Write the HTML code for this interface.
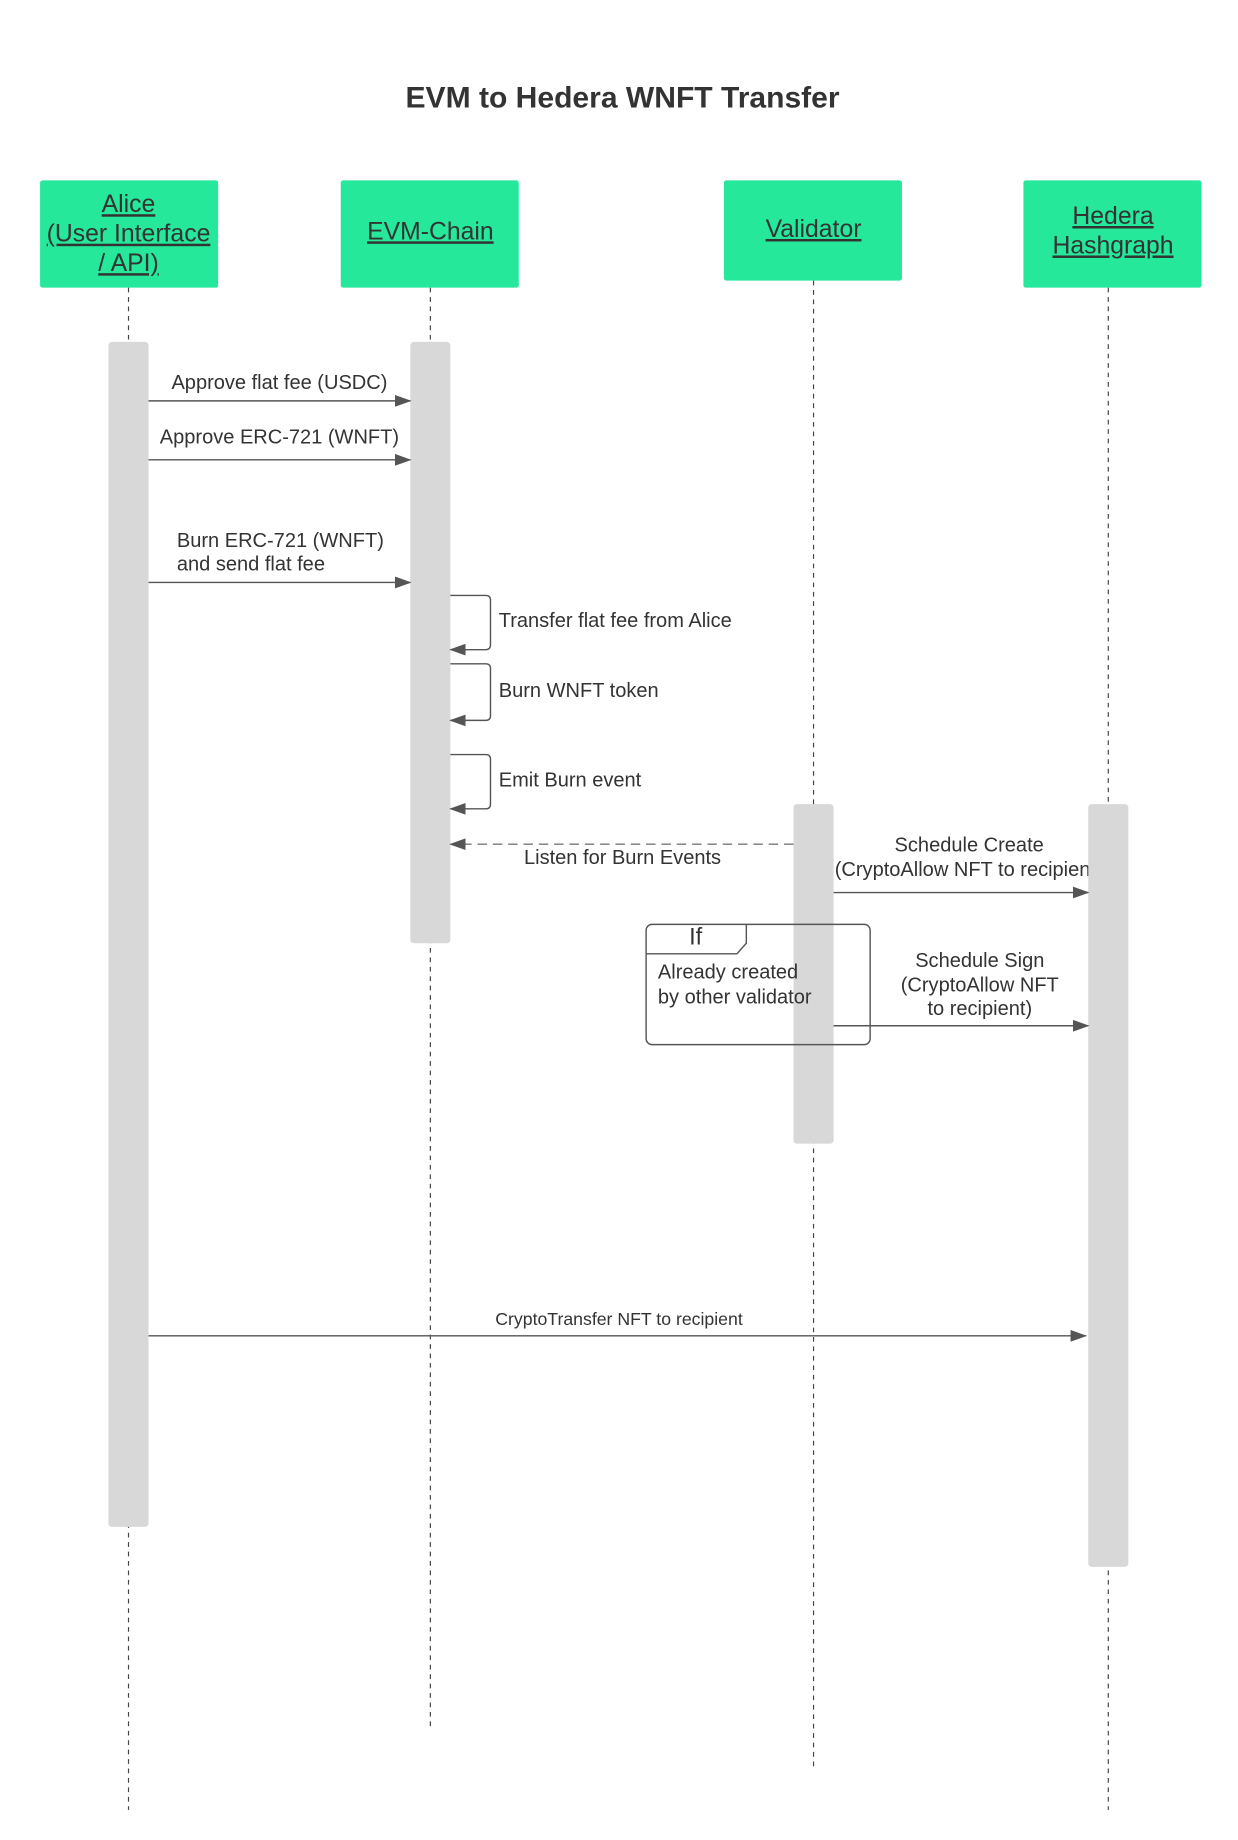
<!DOCTYPE html>
<html><head><meta charset="utf-8"><style>
html,body{margin:0;padding:0;background:#fff;}
svg{display:block;}
text{font-family:"Liberation Sans",sans-serif;fill:#333;}
</style></head><body>
<svg width="1238" height="1840" viewBox="0 0 1050 1560.6" preserveAspectRatio="none" xmlns="http://www.w3.org/2000/svg">
<defs>
<marker id="a" markerWidth="14" markerHeight="10" refX="13" refY="5" orient="auto" markerUnits="userSpaceOnUse"><path d="M0,0 L14,5 L0,10 Z" fill="#555"/></marker>
</defs>
<text x="528" y="91" font-size="25.5" font-weight="bold" text-anchor="middle">EVM to Hedera WNFT Transfer</text>
<g stroke="#444" stroke-width="1" stroke-dasharray="4,4">
<line x1="109" y1="244" x2="109" y2="1535"/>
<line x1="365" y1="244" x2="365" y2="1465"/>
<line x1="690" y1="238" x2="690" y2="1500"/>
<line x1="940" y1="244" x2="940" y2="1535"/>
</g>
<g fill="#25e89b">
<rect x="34" y="153" width="151" height="91" rx="2"/>
<rect x="289" y="153" width="151" height="91" rx="2"/>
<rect x="614" y="153" width="151" height="85" rx="2"/>
<rect x="868" y="153" width="151" height="91" rx="2"/>
</g>
<g font-size="21" text-anchor="middle">
<text x="109" y="180" text-decoration="underline">Alice</text>
<text x="109" y="205" text-decoration="underline">(User Interface</text>
<text x="109" y="230" text-decoration="underline">/ API)</text>
<text x="365" y="203" text-decoration="underline">EVM-Chain</text>
<text x="690" y="201" text-decoration="underline">Validator</text>
<text x="944" y="190" text-decoration="underline">Hedera</text>
<text x="944" y="215" text-decoration="underline">Hashgraph</text>
</g>
<g fill="#d8d8d8">
<rect x="92" y="290" width="34" height="1005" rx="3"/>
<rect x="348" y="290" width="34" height="510" rx="3"/>
<rect x="673" y="682" width="34" height="288" rx="3"/>
</g>
<g font-size="17">
<text x="237" y="330" text-anchor="middle">Approve flat fee (USDC)</text>
<text x="237" y="376" text-anchor="middle">Approve ERC-721 (WNFT)</text>
<text x="150" y="464">Burn ERC-721 (WNFT)</text>
<text x="150" y="484">and send flat fee</text>
<text x="423" y="532">Transfer flat fee from Alice</text>
<text x="423" y="591">Burn WNFT token</text>
<text x="423" y="667">Emit Burn event</text>
<text x="528" y="733" text-anchor="middle">Listen for Burn Events</text>
<text x="822" y="722" text-anchor="middle">Schedule Create</text>
<text x="708" y="743">(CryptoAllow NFT to recipient)</text>
<text x="831" y="820" text-anchor="middle">Schedule Sign</text>
<text x="831" y="841" text-anchor="middle">(CryptoAllow NFT</text>
<text x="831" y="861" text-anchor="middle">to recipient)</text>
<text x="525" y="1124" text-anchor="middle" font-size="15">CryptoTransfer NFT to recipient</text>
</g>
<rect x="923" y="682" width="34" height="647" rx="3" fill="#d8d8d8"/>
<g stroke="#555" stroke-width="1.2" fill="none">
<line x1="126" y1="340" x2="348" y2="340" marker-end="url(#a)"/>
<line x1="126" y1="390" x2="348" y2="390" marker-end="url(#a)"/>
<line x1="126" y1="494" x2="348" y2="494" marker-end="url(#a)"/>
<path d="M382,505 H412 Q416,505 416,509 V547 Q416,551 412,551 H382" marker-end="url(#a)"/>
<path d="M382,563 H412 Q416,563 416,567 V607 Q416,611 412,611 H382" marker-end="url(#a)"/>
<path d="M382,640 H412 Q416,640 416,644 V682 Q416,686 412,686 H382" marker-end="url(#a)"/>
<line x1="673" y1="716" x2="382" y2="716" stroke-dasharray="8,5" stroke="#777" marker-end="url(#a)"/>
<line x1="707" y1="757" x2="923" y2="757" marker-end="url(#a)"/>
<line x1="707" y1="870" x2="923" y2="870" marker-end="url(#a)"/>
<line x1="126" y1="1133" x2="921" y2="1133" marker-end="url(#a)"/>
<rect x="548" y="784" width="190" height="102" rx="5"/>
<path d="M548,809 H625 L633,800 V784"/>
</g>
<g font-size="17">
<text x="590" y="801" text-anchor="middle" font-size="20">If</text>
<text x="558" y="830">Already created</text>
<text x="558" y="851">by other validator</text>
</g>
</svg>
</body></html>
